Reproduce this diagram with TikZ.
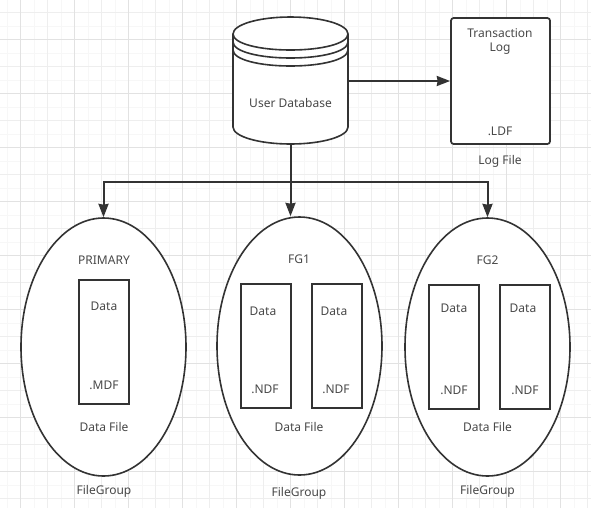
\documentclass[tikz,border=0pt]{standalone}
\usepackage{fontspec}
\setmainfont{Noto Sans}
\usepackage{tikz}
\usetikzlibrary{shapes.geometric,arrows.meta,calc}
\definecolor{darkline}{RGB}{51,51,51}
\definecolor{textgray}{RGB}{72,72,72}
\definecolor{gridmajor}{RGB}{226,226,226}
\definecolor{gridmedium}{RGB}{238,238,238}
\definecolor{gridfaint}{RGB}{247,247,247}

\begin{document}
\begin{tikzpicture}[x=0.75pt, y=-0.75pt, font=\fontsize{9pt}{10.5pt}\selectfont]
\tikzstyle{groupoval} = [ellipse, draw=darkline, fill=white, line width=1.2pt, inner sep=0pt, minimum width=123.75pt, minimum height=193.5pt]
\tikzstyle{datafile} = [rectangle, draw=darkline, fill=white, line width=1.5pt, inner sep=0pt, minimum width=37.5pt, minimum height=93pt]
\tikzstyle{logfile} = [rectangle, rounded corners=2pt, draw=darkline, fill=white, line width=1.3pt, inner sep=0pt, minimum width=74.25pt, minimum height=94.5pt]
\tikzstyle{dbbody} = [rectangle, inner sep=0pt, minimum width=86.25pt, minimum height=94.5pt]
\tikzstyle{caption} = [text=textgray, inner sep=0pt, align=center]
\tikzstyle{arrow} = [darkline, line width=1.5pt, -{Stealth[length=10pt,width=7.5pt,inset=0.6pt]}]

\useasboundingbox (0,0) rectangle (591,508);
\fill [white] (0,0) rectangle (591,508);

% background grid
\foreach \x in {7,34,...,591} \draw [gridfaint, line width=0.75pt] (\x,0) -- (\x,508);
\foreach \y in {26,53,...,508} \draw [gridfaint, line width=0.75pt] (0,\y) -- (591,\y);
\foreach \x in {47.5,101.5,...,591} \draw [gridmedium, line width=0.75pt] (\x,0) -- (\x,508);
\foreach \y in {12.5,66.5,...,508} \draw [gridmedium, line width=0.75pt] (0,\y) -- (591,\y);
\foreach \x in {20.5,74.5,...,591} \draw [gridmajor, line width=0.75pt] (\x,0) -- (\x,508);
\foreach \y in {39.5,93.5,...,508} \draw [gridmajor, line width=0.75pt] (0,\y) -- (591,\y);

% database
\node (userdb) [dbbody] at (290.5,81) {};
\draw [darkline, fill=white, line width=1.2pt] (233,34) .. controls (233,24.5) and (259,17) .. (290.5,17) .. controls (322,17) and (348,24.5) .. (348,34) -- (348,127) .. controls (348,136.5) and (322,144) .. (290.5,144) .. controls (259,144) and (233,136.5) .. (233,127) -- cycle;
\foreach \y in {50,58,66} \draw [darkline, line width=1.2pt] (233,\y-16) .. controls (233,\y-6.5) and (259,\y) .. (290.5,\y) .. controls (322,\y) and (348,\y-6.5) .. (348,\y-16);
\node (userdbtext) [caption] at (290.5,103) {User Database};

% log file
\node (logbox) [logfile] at (500.5,81) {};
\node (logname) [caption] at (500,42) {Transaction\\Log};
\node (logext) [caption] at (500,131) {.LDF};
\node (logcaption) [caption] at (500,161) {Log File};

% file groups
\node (primary) [groupoval] at (103.5,347) {};
\node (fgone) [groupoval] at (299.5,346) {};
\node (fgtwo) [groupoval] at (487.5,347) {};

% primary
\node (primaryname) [caption] at (104,260) {PRIMARY};
\node (mdfbox) [datafile] at (104,342) {};
\node (mdfdata) [caption] at (104,306) {Data};
\node (mdfext) [caption] at (104,385) {.MDF};
\node (primaryfile) [caption] at (104,427) {Data File};
\node (primarygroup) [caption] at (104,491) {FileGroup};

% fg1
\node (fgonename) [caption] at (299,259) {FG1};
\node (ndfa) [datafile] at (265.5,346) {};
\node (ndfb) [datafile] at (336.5,346) {};
\node (ndfadata) [caption] at (263,311) {Data};
\node (ndfbdata) [caption] at (334,311) {Data};
\node (ndfaext) [caption] at (265,389) {.NDF};
\node (ndfbext) [caption] at (336,389) {.NDF};
\node (fgonefile) [caption] at (299,427) {Data File};
\node (fgonegroup) [caption] at (299,493.5) {FileGroup};

% fg2
\node (fgtwoname) [caption] at (487.5,260) {FG2};
\node (ndfc) [datafile] at (454,347) {};
\node (ndfd) [datafile] at (525,347) {};
\node (ndfcdata) [caption] at (454,308) {Data};
\node (ndfddata) [caption] at (523,308) {Data};
\node (ndfcext) [caption] at (454,390) {.NDF};
\node (ndfdext) [caption] at (525,390) {.NDF};
\node (fgtwofile) [caption] at (487.5,427) {Data File};
\node (fgtwogroup) [caption] at (487.5,491) {FileGroup};

% connectors
\coordinate (split) at (290.5,182);
\draw [arrow] (userdb.east) -- (logbox.west);
\draw [arrow] (userdb.south) -- (split) -- (split |- fgone.north);
\draw [arrow] (split) -| (primary.north);
\draw [arrow] (split) -| (fgtwo.north);
\end{tikzpicture}
\end{document}
